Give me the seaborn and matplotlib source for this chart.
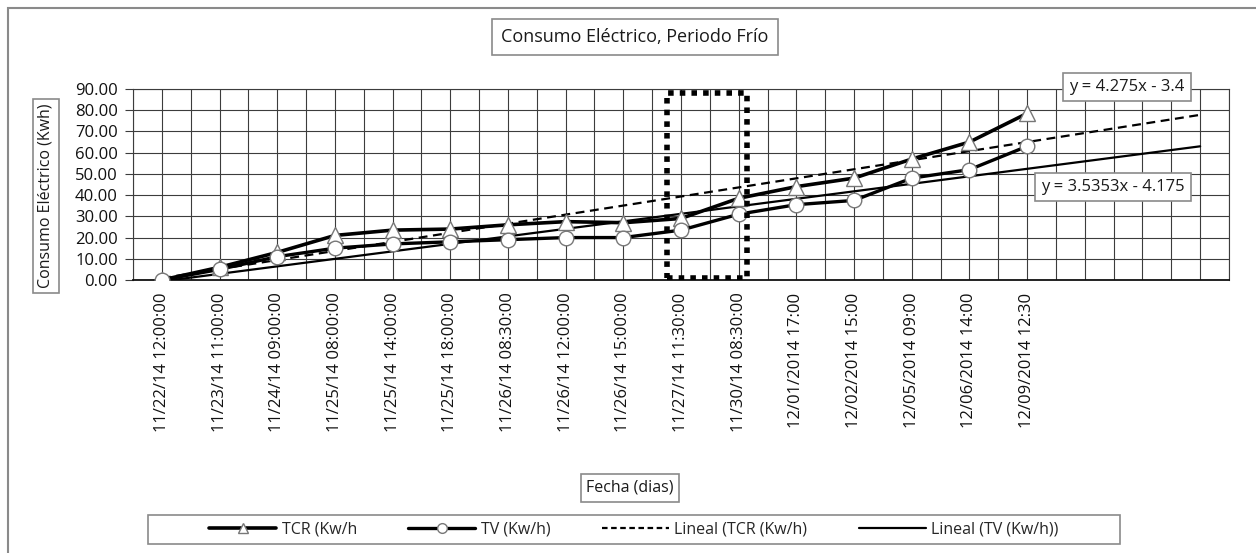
import matplotlib.pyplot as plt
import matplotlib.patches as mpatches
from matplotlib.lines import Line2D
import numpy as np
import pandas as pd
import seaborn as sns

# data
fechas = ['11/22/14 12:00:00', '11/23/14 11:00:00', '11/24/14 09:00:00', '11/25/14 08:00:00',
          '11/25/14 14:00:00', '11/25/14 18:00:00', '11/26/14 08:30:00', '11/26/14 12:00:00',
          '11/26/14 15:00:00', '11/27/14 11:30:00', '11/30/14 08:30:00', '12/01/2014 17:00',
          '12/02/2014 15:00', '12/05/2014 09:00', '12/06/2014 14:00', '12/09/2014 12:30']
tcr = [0, 6, 13, 21, 23.5, 24, 26, 27.5, 27, 29, 38.5, 44, 48, 57, 65, 78.5]
tv = [0, 5, 11, 15, 17, 18, 19, 20, 20, 23.5, 31, 35.5, 37.5, 48, 52, 63]
# trendline equations printed on the chart (x = 1, 2, ...), forecast 3 periods ahead
tcr_slope, tcr_icpt = 4.275, -3.4
tv_slope, tv_icpt = 3.5353, -4.175
forecast = 3
# highlighted period (11/27 - 11/30)
hl_x0, hl_x1, hl_y0, hl_y1 = 8.75, 10.15, 1, 88

df = pd.DataFrame({'pos': np.arange(len(fechas)), 'fecha': fechas, 'TCR': tcr, 'TV': tv})
xt = np.arange(1, len(fechas) + forecast + 1)
trend = pd.DataFrame({'pos': xt - 1,
                      'TCR': tcr_slope * xt + tcr_icpt,
                      'TV': tv_slope * xt + tv_icpt})

sns.set_theme(style='white')
plt.rcParams['font.family'] = ['Open Sans', 'DejaVu Sans']

fig = plt.figure(figsize=(12.56, 5.53), dpi=100)
W, H = 1256, 553
ax = fig.add_axes([133 / W, 1 - 280 / H, (1229 - 133) / W, (280 - 89) / H])

grid_c = '#3c3c3c'
ax.set_xlim(-0.5, len(fechas) + forecast - 0.5)
ax.set_ylim(0, 90)
ax.xaxis.remove_overlapping_locs = False
ax.set_xticks(np.arange(-0.5, len(fechas) + forecast, 0.5), minor=True)
ax.set_xticks(df['pos'])
ax.set_xticklabels(fechas, rotation=90, fontsize=12, color='#111111')
ax.set_yticks(np.arange(0, 91, 10))
ax.set_yticklabels(['%.2f' % v for v in np.arange(0, 91, 10)], fontsize=12, color='#111111')
ax.grid(False)
ax.grid(True, which='minor', axis='x', color=grid_c, lw=0.8)
ax.grid(True, which='major', axis='y', color=grid_c, lw=0.8)
ax.tick_params(axis='x', which='both', length=0, pad=9)
ax.tick_params(axis='y', which='major', length=6, width=0.8, color=grid_c, pad=5, left=True)
for s in ax.spines.values():
    s.set_color(grid_c)
    s.set_linewidth(0.8)
ax.spines['bottom'].set_color('#111111')
ax.spines['bottom'].set_linewidth(1.3)

# trendlines
sns.lineplot(data=trend, x='pos', y='TCR', ax=ax, color='black', lw=1.6,
             linestyle=(0, (4, 2.5)), zorder=3)
sns.lineplot(data=trend, x='pos', y='TV', ax=ax, color='black', lw=1.6, zorder=3)

# series
sns.lineplot(data=df, x='pos', y='TCR', ax=ax, color='black', lw=2.6, marker='^',
             markersize=11, markerfacecolor='white', markeredgecolor='#777777',
             markeredgewidth=1, zorder=4)
sns.lineplot(data=df, x='pos', y='TV', ax=ax, color='black', lw=2.4, marker='o',
             markersize=10.5, markerfacecolor='white', markeredgecolor='#777777',
             markeredgewidth=1, zorder=4)

ax.add_patch(mpatches.Rectangle((hl_x0, hl_y0), hl_x1 - hl_x0, hl_y1 - hl_y0, fill=False,
                                ec='black', lw=4, linestyle=(0, (1, 1.1)), zorder=5))
ax.set_xlabel('')
ax.set_ylabel('')

box = dict(boxstyle='square,pad=0.35', fc='white', ec='#8a8a8a', lw=1.2)
fig.text(635 / W, 1 - 37 / H, 'Consumo Eléctrico, Periodo Frío', ha='center', va='center',
         fontsize=13, color='#1a1a1a', bbox=dict(boxstyle='square,pad=0.5', fc='white', ec='#8a8a8a', lw=1.2))
fig.text(46 / W, 1 - 196 / H, 'Consumo Eléctrico (Kwh)', rotation=90, ha='center', va='center',
         fontsize=11.5, color='#1a1a1a', bbox=dict(boxstyle='square,pad=0.3', fc='white', ec='#8a8a8a', lw=1.2))
fig.text(630 / W, 1 - 488 / H, 'Fecha (dias)', ha='center', va='center',
         fontsize=11.5, color='#1a1a1a', bbox=box)
fig.text(1127 / W, 1 - 87 / H, 'y = %gx - %g' % (tcr_slope, -tcr_icpt), ha='center', va='center',
         fontsize=12, color='#1a1a1a', bbox=box, zorder=6)
fig.text(1113 / W, 1 - 187 / H, 'y = %gx - %g' % (tv_slope, -tv_icpt), ha='center', va='center',
         fontsize=12, color='#1a1a1a', bbox=box, zorder=6)

# legend
handles = [
    Line2D([], [], color='black', lw=2.6, marker='^', markersize=7, markerfacecolor='white',
           markeredgecolor='#777777'),
    Line2D([], [], color='black', lw=2.4, marker='o', markersize=7, markerfacecolor='white',
           markeredgecolor='#777777'),
    Line2D([], [], color='black', lw=1.6, linestyle=(0, (2.5, 1.6))),
    Line2D([], [], color='black', lw=1.6),
]
labels = ['TCR (Kw/h', 'TV (Kw/h)', 'Lineal (TCR (Kw/h)', 'Lineal (TV (Kw/h))']
fig.add_artist(mpatches.Rectangle((148 / W, 1 - 544 / H), (1120 - 148) / W, 29 / H,
                                  transform=fig.transFigure, fill=False, ec='#8a8a8a', lw=1.2))
fig.legend(handles, labels, loc='center', bbox_to_anchor=(634 / W, 1 - 529.5 / H), ncol=4,
           frameon=False, fontsize=11.5, handlelength=4.2, handletextpad=0.35, columnspacing=3.2)

# outer chart border (left and top visible)
fig.add_artist(mpatches.Rectangle((8 / W, -0.1), 1.2, 1.1 - 8 / H, transform=fig.transFigure,
                                  fill=False, ec='#8a8a8a', lw=1.5))

fig.savefig('out.png', dpi=100)
